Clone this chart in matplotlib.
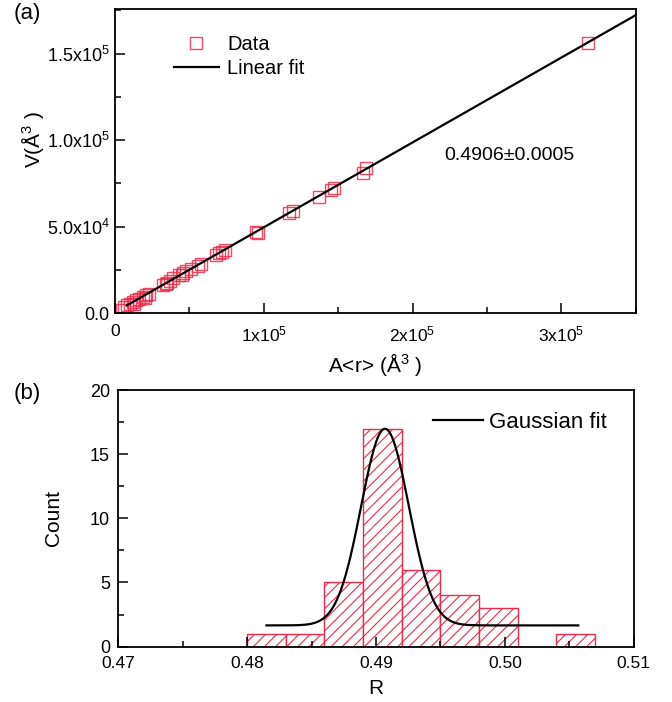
import numpy as np
import matplotlib
matplotlib.use("Agg")
import matplotlib.pyplot as plt
from matplotlib.ticker import MultipleLocator, FixedLocator

plt.rcParams['font.family'] = ['Liberation Sans', 'DejaVu Sans']
plt.rcParams['mathtext.fontset'] = 'custom'
plt.rcParams['mathtext.rm'] = 'Liberation Sans'
plt.rcParams['mathtext.it'] = 'Liberation Sans:italic'
plt.rcParams['hatch.linewidth'] = 0.8

# ---- panel (a) data: A<r> (x) and V (y), in Å^3 ----
area_r = [0.5e4, 0.6e4, 0.8e4, 1.0e4, 1.2e4, 1.3e4, 1.4e4, 1.6e4, 1.9e4, 2.0e4, 2.1e4,
          2.3e4, 3.2e4, 3.4e4, 3.5e4, 3.7e4, 3.9e4, 4.3e4, 4.5e4, 4.6e4, 4.8e4, 5.1e4,
          5.6e4, 5.8e4, 6.8e4, 7.0e4, 7.2e4, 7.4e4, 9.5e4, 9.6e4, 11.7e4, 12.0e4,
          13.7e4, 14.5e4, 14.7e4, 16.7e4, 16.9e4, 31.8e4]
volume = [0.2e4, 0.35e4, 0.45e4, 0.55e4, 0.65e4, 0.55e4, 0.75e4, 0.8e4, 0.95e4, 0.9e4, 1.05e4,
          1.1e4, 1.6e4, 1.7e4, 1.75e4, 1.85e4, 2.0e4, 2.2e4, 2.2e4, 2.3e4, 2.45e4, 2.55e4,
          2.75e4, 2.85e4, 3.35e4, 3.45e4, 3.55e4, 3.65e4, 4.7e4, 4.65e4, 5.8e4, 5.9e4,
          6.7e4, 7.1e4, 7.25e4, 8.1e4, 8.4e4, 15.6e4]
fit_slope = 0.4906
fit_intercept = 500.0
fit_x_range = [0.8e4, 3.5e5]

# ---- panel (b) data: histogram of R ----
bin_left = [0.480, 0.483, 0.486, 0.489, 0.492, 0.495, 0.498, 0.504]
bin_count = [1, 1, 5, 17, 6, 4, 3, 1]
bin_width = 0.003
gauss_y0 = 1.65
gauss_A = 15.35
gauss_xc = 0.4907
gauss_sigma = 0.00185
gauss_range = [0.4815, 0.5057]

red = '#ee2a4a'

fig = plt.figure(figsize=(6.72, 7.02), dpi=100)
ax1 = fig.add_axes([0.171, 0.554, 0.775, 0.433])
ax2 = fig.add_axes([0.176, 0.079, 0.767, 0.365])

for ax in (ax1, ax2):
    for s in ax.spines.values():
        s.set_linewidth(1.3)
    ax.tick_params(which='both', direction='in', width=1.1,
                   top=False, right=False)
    ax.tick_params(axis='y', labelsize=13, pad=4)
    ax.tick_params(axis='x', labelsize=12.5)
    ax.tick_params(which='major', length=7)
    ax.tick_params(which='minor', length=4)

# panel (a)
ax1.plot(area_r, volume, 's', ms=8, mfc='none', mec=red, mew=1.0, alpha=0.85,
         label='Data')
fx = np.array(fit_x_range)
ax1.plot(fx, fit_slope * fx + fit_intercept, '-', color='black', lw=1.6,
         label='Linear fit')
ax1.set_xlim(0, 3.5e5)
ax1.set_ylim(0, 1.757e5)
ax1.xaxis.set_major_locator(FixedLocator([0, 1e5, 2e5, 3e5]))
ax1.xaxis.set_minor_locator(MultipleLocator(0.5e5))
ax1.set_xticklabels(['0', '1x10$^{5}$', '2x10$^{5}$', '3x10$^{5}$'])
ax1.yaxis.set_major_locator(FixedLocator([0, 5e4, 1e5, 1.5e5]))
ax1.yaxis.set_minor_locator(MultipleLocator(2.5e4))
ax1.set_yticklabels(['0.0', '5.0x10$^{4}$', '1.0x10$^{5}$', '1.5x10$^{5}$'])
ax1.tick_params(axis='x', pad=8)
ax1.set_xlabel('A<r> (Å$^{3}$ )', fontsize=15)
ax1.xaxis.set_label_coords(0.5, -38 / 304, transform=ax1.transAxes)
ax1.set_ylabel('V(Å$^{3}$ )', fontsize=15)
ax1.yaxis.set_label_coords(-69 / 521, 0.57, transform=ax1.transAxes)
ax1.text(2.21e5, 9.13e4, '0.4906±0.0005', fontsize=14, va='center', ha='left')
ax1.legend(loc='upper left', bbox_to_anchor=(0.113, 0.915), frameon=False,
           fontsize=14.5, handlelength=2.25, handletextpad=0.4, labelspacing=0.25,
           borderpad=0, borderaxespad=0)

# panel (b)
ax2.bar(bin_left, bin_count, width=bin_width, align='edge', facecolor='white',
        edgecolor=red, hatch='///', linewidth=1.0)
gx = np.linspace(gauss_range[0], gauss_range[1], 400)
gy = gauss_y0 + gauss_A * np.exp(-(gx - gauss_xc) ** 2 / (2 * gauss_sigma ** 2))
ax2.plot(gx, gy, '-', color='black', lw=1.6, label='Gaussian fit')
ax2.set_xlim(0.47, 0.51)
ax2.set_ylim(0, 20)
ax2.xaxis.set_major_locator(FixedLocator([0.47, 0.48, 0.49, 0.50, 0.51]))
ax2.xaxis.set_minor_locator(MultipleLocator(0.005))
ax2.set_xticklabels(['0.47', '0.48', '0.49', '0.50', '0.51'])
ax2.yaxis.set_major_locator(MultipleLocator(5))
ax2.yaxis.set_minor_locator(MultipleLocator(2.5))
ax2.tick_params(axis='y', pad=6)
ax2.tick_params(axis='x', pad=7)
ax2.set_xlabel('R', fontsize=15)
ax2.xaxis.set_label_coords(0.5, -33 / 256.7, transform=ax2.transAxes)
ax2.set_ylabel('Count', fontsize=15)
ax2.yaxis.set_label_coords(-55 / 516, 0.5, transform=ax2.transAxes)
ax2.legend(loc='upper left', bbox_to_anchor=(0.61, 0.915), frameon=False,
           fontsize=16, handlelength=2.25, handletextpad=0.27,
           borderpad=0, borderaxespad=0)

fig.text(14 / 672, 1 - 13 / 702, '(a)', fontsize=16, va='center', ha='left')
fig.text(14 / 672, 1 - 393 / 702, '(b)', fontsize=16, va='center', ha='left')

fig.savefig('out.png', dpi=100)
